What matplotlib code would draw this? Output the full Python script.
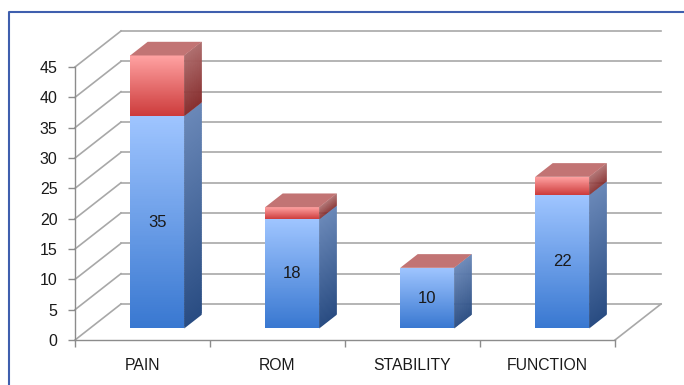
import matplotlib
matplotlib.use('Agg')
import matplotlib.pyplot as plt
from matplotlib.patches import Polygon
from matplotlib.lines import Line2D
from matplotlib.colors import to_rgb
import numpy as np

# ---- data ----
categories = ['PAIN', 'ROM', 'STABILITY', 'FUNCTION']
blue_values = [35, 18, 10, 22]
red_values = [10, 2, 0, 3]
y_ticks = [0, 5, 10, 15, 20, 25, 30, 35, 40, 45]

plt.rcParams['font.family'] = ['Liberation Sans', 'DejaVu Sans']

W, H = 684, 385
fig = plt.figure(figsize=(W / 100, H / 100), dpi=100)
fig.patch.set_facecolor('white')
ax = fig.add_axes([75 / W, 45 / H, 540 / W, 273 / H])
ax.set_xlim(-0.5, len(categories) - 0.5)
ax.set_ylim(0, 45)
ax.patch.set_visible(False)

# depth of the 3D box (in data units)
DX = 46 / 135.0
DY = 36 / (273 / 45.0)
D0, D1 = 0.32, 0.70  # bar depth range
HALF = 0.2           # half bar width

def P(x, v, d):
    return (x + d * DX, v + d * DY)

grid_c = '#a8a8a8'
x_left = -0.5
x_right = len(categories) - 0.5
# side wall diagonals and back wall grid lines
for v in y_ticks:
    ax.add_line(Line2D([x_left, x_left + DX], [v, v + DY], color=grid_c, lw=1.2, clip_on=False, zorder=1))
    ax.add_line(Line2D([x_left + DX, x_right + DX], [v + DY, v + DY], color=grid_c, lw=1.2, clip_on=False, zorder=1))
# floor right edge
ax.add_line(Line2D([x_right, x_right + DX], [0, DY], color=grid_c, lw=1.2, clip_on=False, zorder=1))

def mix(c1, c2, t):
    a = np.array(to_rgb(c1)); b = np.array(to_rgb(c2))
    return tuple(a * (1 - t) + b * t)

def grad_face(corners, lo, hi, c_top, c_bot, n=120, z=3):
    step = (hi - lo) / n
    for k in range(n):
        t = (k + 0.5) / n
        v0 = lo + step * k
        v1 = min(hi, lo + step * (k + 2))  # overlap to hide seams
        col = mix(c_bot, c_top, t)
        poly = Polygon(corners(v0, v1), closed=True, facecolor=col, edgecolor='none',
                       lw=0, clip_on=False, zorder=z)
        ax.add_patch(poly)

styles = {
    'blue': dict(front_top='#9fc5ff', front_bot='#3877d0', side_top='#6a88b8', side_bot='#294c82'),
    'red': dict(front_top='#ffa2a2', front_bot='#cc3a3a', side_top='#ad6a6a', side_bot='#842828'),
}
top_face_c = '#c27474'

for i, (b, r) in enumerate(zip(blue_values, red_values)):
    xl, xr = i - HALF, i + HALF
    segs = [(0, b, 'blue'), (b, b + r, 'red')]
    for lo, hi, key in segs:
        if hi <= lo:
            continue
        s = styles[key]
        grad_face(lambda v0, v1: [P(xl, v0, D0), P(xr, v0, D0), P(xr, v1, D0), P(xl, v1, D0)],
                  lo, hi, s['front_top'], s['front_bot'])
        grad_face(lambda v0, v1: [P(xr, v0, D0), P(xr, v0, D1), P(xr, v1, D1), P(xr, v1, D0)],
                  lo, hi, s['side_top'], s['side_bot'])
    tot = b + r
    ax.add_patch(Polygon([P(xl, tot, D0), P(xr, tot, D0), P(xr, tot, D1), P(xl, tot, D1)],
                         closed=True, facecolor=top_face_c, edgecolor='none', lw=0,
                         clip_on=False, zorder=3))
    tx, ty = P(i, b / 2, D0)
    ax.text(tx, ty, str(b), ha='center', va='center', fontsize=12, color='#1a1a1a', zorder=5)

# axes styling
axis_c = '#8c8c8c'
for side in ['top', 'right']:
    ax.spines[side].set_visible(False)
for side in ['left', 'bottom']:
    ax.spines[side].set_color(axis_c)
    ax.spines[side].set_linewidth(1.0)
ax.set_yticks(y_ticks)
ax.set_yticklabels([str(t) for t in y_ticks])
ax.tick_params(axis='y', length=5, width=1, color=axis_c, pad=7.5, labelsize=11.5, labelcolor='#1a1a1a')
ax.set_xticks(range(len(categories)))
ax.set_xticklabels(categories)
ax.set_xticks(np.arange(len(categories) + 1) - 0.5, minor=True)
ax.tick_params(axis='x', which='major', length=0, pad=13, labelsize=11.3, labelcolor='#1a1a1a')
ax.tick_params(axis='x', which='minor', length=5, width=1, color=axis_c)

# outer border
border_c = '#3f5fae'
fig.add_artist(Line2D([9 / W, 9 / W, 1.0], [0.0, 1 - 12 / H, 1 - 12 / H],
                      transform=fig.transFigure, color=border_c, lw=1.5))

fig.savefig('out.png', dpi=100)
